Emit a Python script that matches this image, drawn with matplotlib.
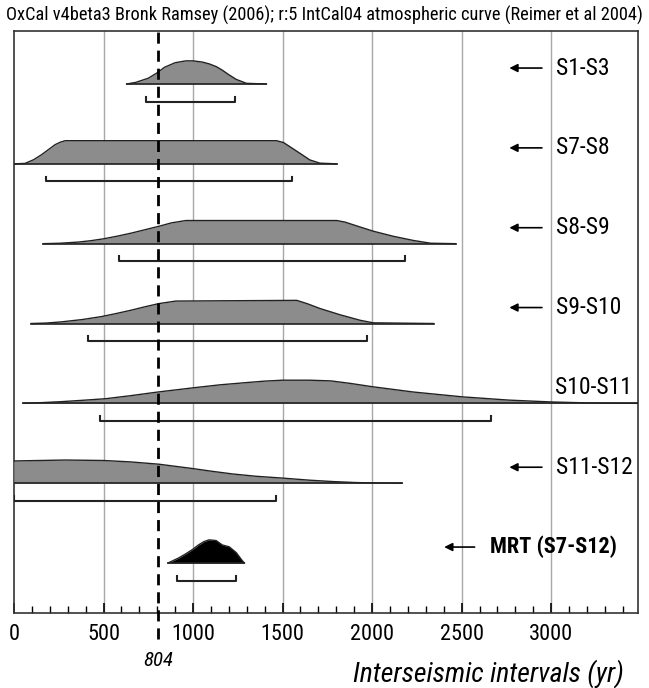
import matplotlib
matplotlib.use("Agg")
import matplotlib.pyplot as plt

plt.rcParams['font.family'] = ['Roboto Condensed', 'Liberation Sans', 'DejaVu Sans']

# interval names, top to bottom
names = ["S1-S3", "S7-S8", "S8-S9", "S9-S10", "S10-S11", "S11-S12", "MRT (S7-S12)"]

# probability profiles (years, relative height)
s1_x = [629, 680, 750, 803, 840, 900, 960, 1000, 1050, 1090, 1130, 1163, 1200, 1241, 1298, 1410]
s1_h = [0, 0.07, 0.25, 0.5, 0.72, 0.92, 1.0, 1.0, 0.95, 0.87, 0.75, 0.6, 0.4, 0.2, 0.03, 0]
s7_x = [5, 62, 110, 153, 195, 230, 260, 287, 1466, 1505, 1539, 1596, 1652, 1708, 1803]
s7_h = [0, 0.02, 0.18, 0.39, 0.63, 0.83, 0.94, 1.0, 1.0, 0.92, 0.75, 0.46, 0.17, 0.03, 0]
s8_x = [163, 260, 360, 430, 500, 580, 657, 730, 809, 880, 960, 1803, 1850, 1893, 2006,
        2118, 2230, 2326, 2467]
s8_h = [0, 0.02, 0.07, 0.13, 0.21, 0.33, 0.46, 0.6, 0.75, 0.9, 1.0, 1.0, 0.93, 0.82, 0.54,
        0.32, 0.14, 0.02, 0]
s9_x = [96, 180, 264, 380, 489, 570, 657, 730, 809, 904, 1579, 1640, 1708, 1820, 1933,
        2006, 2343]
s9_h = [0, 0.02, 0.07, 0.17, 0.3, 0.43, 0.58, 0.72, 0.86, 0.97, 1.0, 0.85, 0.65, 0.38,
        0.14, 0.03, 0]
s10_x = [51, 150, 257, 380, 511, 650, 804, 1000, 1150, 1303, 1400, 1500, 1650, 1770, 1880,
         2000, 2230, 2505, 2764, 3000, 3250, 3485]
s10_h = [0, 0.03, 0.07, 0.13, 0.2, 0.33, 0.49, 0.67, 0.8, 0.9, 0.96, 1.0, 1.0, 0.97, 0.86,
         0.72, 0.49, 0.28, 0.14, 0.06, 0.01, 0]
s11_x = [0, 287, 500, 650, 809, 1000, 1100, 1219, 1350, 1500, 1650, 1781, 1900, 2000, 2168]
s11_h = [0.96, 1.0, 0.98, 0.92, 0.82, 0.63, 0.52, 0.4, 0.3, 0.22, 0.13, 0.07, 0.03, 0.01, 0]
mrt_x = [860, 920, 960, 1000, 1030, 1062, 1090, 1129, 1163, 1202, 1241, 1275, 1287]
mrt_h = [0, 0.22, 0.4, 0.6, 0.78, 0.93, 1.0, 0.97, 0.78, 0.7, 0.45, 0.1, 0]

profiles = [(s1_x, s1_h), (s7_x, s7_h), (s8_x, s8_h), (s9_x, s9_h),
            (s10_x, s10_h), (s11_x, s11_h), (mrt_x, mrt_h)]

# 95% ranges (brackets)
range_lo = [736, 180, 584, 416, 478, 0, 910]
range_hi = [1236, 1553, 2185, 1972, 2663, 1466, 1241]

mean_interval = 804

fig = plt.figure(figsize=(6.49, 6.88), dpi=100)
ax = fig.add_axes([14 / 649, 1 - 613 / 688, 624 / 649, 582 / 688])

xmax = 3485
peak = 0.29
n = len(names)

for i, (px, ph) in enumerate(profiles):
    base = n - 1 - i
    top = [base + v * peak for v in ph]
    is_mrt = (i == n - 1)
    fc = "black" if is_mrt else "#8c8c8c"
    ax.fill_between(px, base, top, color=fc, lw=0, zorder=3)
    ax.plot(px, top, color="#222222", lw=1.0, zorder=4)
    ax.plot([px[0], px[-1]], [base, base], color="#222222", lw=1.2, zorder=4)

    # bracket
    yb = base - 0.22
    ax.plot([range_lo[i], range_lo[i], range_hi[i], range_hi[i]],
            [yb + 0.06, yb, yb, yb + 0.06], color="#222222", lw=1.5, zorder=4)

    # labels and arrows
    yl = base + 0.2
    if is_mrt:
        ax.text(2656, yl, names[i], fontsize=16, fontweight="bold",
                ha="left", va="center", zorder=5)
        ax.annotate("", xy=(2387, yl), xytext=(2588, yl),
                    arrowprops=dict(arrowstyle="-|>", lw=1.2, color="black",
                                    mutation_scale=12))
    elif names[i] == "S10-S11":
        ax.text(3451, yl, names[i], fontsize=17, ha="right", va="center",
                zorder=5)
    else:
        ax.text(3025, yl, names[i], fontsize=17, ha="left", va="center",
                zorder=5)
        ax.annotate("", xy=(2751, yl), xytext=(2964, yl),
                    arrowprops=dict(arrowstyle="-|>", lw=1.2, color="black",
                                    mutation_scale=12))

# grid
for g in range(500, 3500, 500):
    ax.axvline(g, color="#a8a8a8", lw=1.0, zorder=1)

ax.set_xlim(0, xmax)
ax.set_ylim(-0.626, 6.664)
ax.set_yticks([])
ax.set_xticks(range(0, 3500, 500))
ax.set_xticks(range(0, 3500, 100), minor=True)
ax.tick_params(axis="x", which="major", direction="in", length=7, width=1.2,
               labelsize=16, pad=8)
ax.tick_params(axis="x", which="minor", direction="in", length=5, width=1.0)
for s in ax.spines.values():
    s.set_color("#333333")
    s.set_linewidth(1.2)

# mean line, reaching below the axis
ax.plot([mean_interval, mean_interval], [-0.95, 6.664], color="black", lw=2,
        ls=(0, (4, 2.5)), clip_on=False, zorder=6)
ax.text(mean_interval, -1.22, str(mean_interval), fontsize=15, style="italic",
        ha="center", va="center")

fig.text(0.5, 1 - 15 / 688,
         "OxCal v4beta3 Bronk Ramsey (2006); r:5 IntCal04 atmospheric curve (Reimer et al 2004)",
         fontsize=13.2, ha="center", va="center")
fig.text(624 / 649, 1 - 674 / 688, "Interseismic intervals (yr)", fontsize=20,
         style="italic", ha="right", va="center")

fig.savefig("out.png", dpi=100)
